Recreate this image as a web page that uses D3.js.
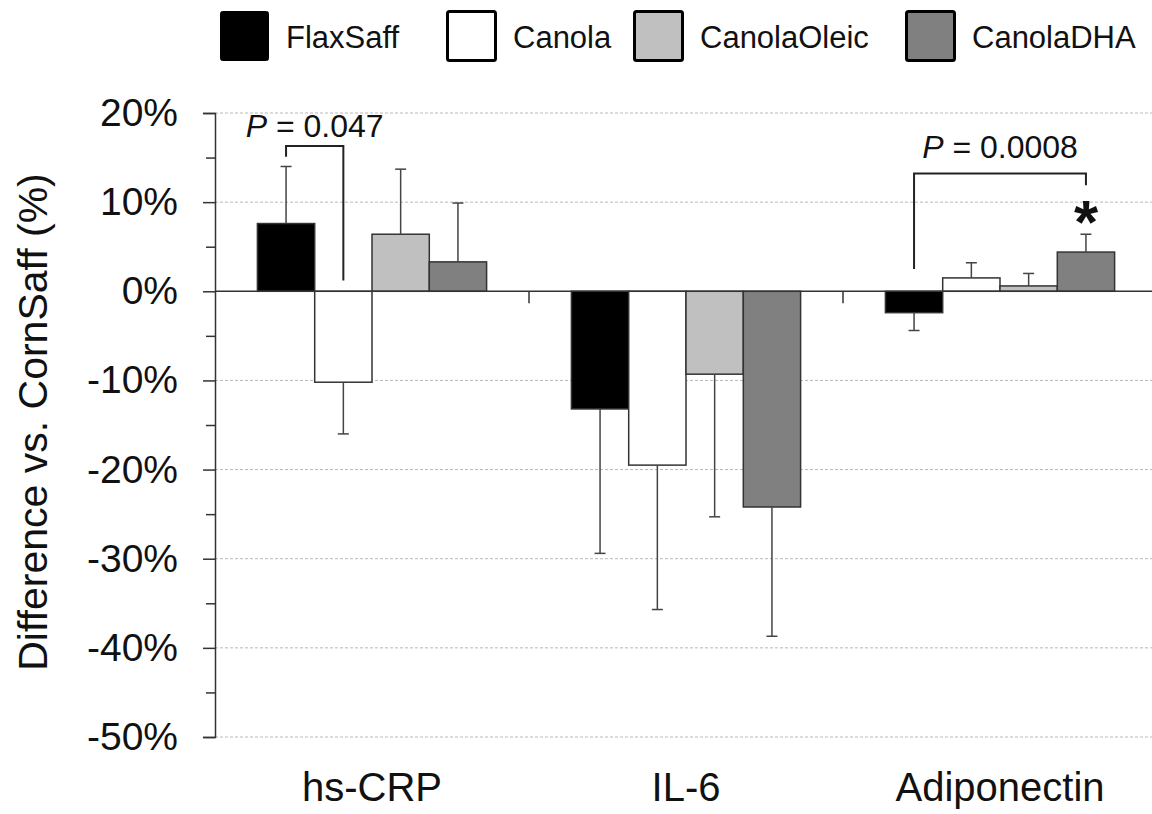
<!DOCTYPE html>
<html>
<head>
<meta charset="utf-8">
<script src="https://cdn.jsdelivr.net/npm/d3@7"></script>
<style>
  body { margin: 0; background: #fff; }
  svg { display: block; font-family: "Liberation Sans", Arial, sans-serif; }
</style>
</head>
<body>
<svg id="svg" width="1152" height="814"></svg>
<script>
// categories and series
var categories = ["hs-CRP", "IL-6", "Adiponectin"];
var seriesNames = ["FlaxSaff", "Canola", "CanolaOleic", "CanolaDHA"];
var seriesColors = ["#000000", "#ffffff", "#c0c0c0", "#808080"];

// % difference vs CornSaff, one value per category
var flaxSaff    = [7.6, -13.2, -2.4];
var canola      = [-10.2, -19.5, 1.5];
var canolaOleic = [6.4, -9.3, 0.6];
var canolaDHA   = [3.3, -24.2, 4.4];

// error bar length (drawn away from zero)
var flaxSaffErr    = [6.4, 16.2, 2.0];
var canolaErr      = [5.8, 16.2, 1.7];
var canolaOleicErr = [7.3, 16.0, 1.4];
var canolaDHAErr   = [6.6, 14.5, 2.0];

var yTicks = [20, 10, 0, -10, -20, -30, -40, -50];
var yMinorTicks = [15, 5, -5, -15, -25, -35, -45];

// significance brackets: category, from series, to series, top, left leg end, right leg end, label
var bracketCats = ["hs-CRP", "Adiponectin"];
var bracketFrom = ["FlaxSaff", "FlaxSaff"];
var bracketTo = ["Canola", "CanolaDHA"];
var bracketTop = [16.3, 13.2];
var bracketLeftEnd = [15.1, 2.5];
var bracketRightEnd = [1.2, 11.9];
var bracketLabels = ["0.047", "0.0008"];
var labelValue = [17.3, 14.9];

var allValues = [flaxSaff, canola, canolaOleic, canolaDHA];
var allErrs = [flaxSaffErr, canolaErr, canolaOleicErr, canolaDHAErr];

var barData = [];
categories.forEach(function(c, i){
    seriesNames.forEach(function(s, j){
        barData.push({cat: c, series: s, value: allValues[j][i], err: allErrs[j][i], color: seriesColors[j]});
    });
});

var svg = d3.select("#svg");
var plot = {left: 215, right: 1157, top: 113, bottom: 737};

var y = d3.scaleLinear().domain([-50, 20]).range([plot.bottom, plot.top]);
var x0 = d3.scaleBand().domain(categories).range([plot.left, plot.right]).padding(0);
var x1 = d3.scaleBand().domain(seriesNames).range([0, x0.bandwidth()]).paddingInner(0).paddingOuter(0.74);

svg.append("rect").attr("width", 1152).attr("height", 814).attr("fill", "#fff");

// gridlines
svg.append("g").selectAll("line").data(yTicks.filter(function(d){ return d !== 0; })).enter()
    .append("line")
    .attr("x1", plot.left).attr("x2", 1152)
    .attr("y1", function(d){ return y(d); }).attr("y2", function(d){ return y(d); })
    .attr("stroke", "#b8b8b8").attr("stroke-width", 1).attr("stroke-dasharray", "3,2");

// bars
var bars = svg.append("g");
bars.selectAll("rect").data(barData).enter()
    .append("rect")
    .attr("x", function(d){ return x0(d.cat) + x1(d.series); })
    .attr("width", x1.bandwidth())
    .attr("y", function(d){ return y(Math.max(0, d.value)); })
    .attr("height", function(d){ return Math.abs(y(d.value) - y(0)); })
    .attr("fill", function(d){ return d.color; })
    .attr("stroke", "#333").attr("stroke-width", 1.5);

// error bars
var errG = svg.append("g").attr("stroke", "#444").attr("stroke-width", 1.5);
barData.forEach(function(d){
    var cx = x0(d.cat) + x1(d.series) + x1.bandwidth() / 2;
    var end = d.value >= 0 ? d.value + d.err : d.value - d.err;
    errG.append("line").attr("x1", cx).attr("x2", cx).attr("y1", y(d.value)).attr("y2", y(end));
    errG.append("line").attr("x1", cx - 5.5).attr("x2", cx + 5.5).attr("y1", y(end)).attr("y2", y(end));
});

// zero line
svg.append("line")
    .attr("x1", plot.left).attr("x2", 1152)
    .attr("y1", y(0)).attr("y2", y(0))
    .attr("stroke", "#333").attr("stroke-width", 1.5);

// category separator ticks
svg.append("g").selectAll("line").data(categories.slice(0, 2)).enter()
    .append("line")
    .attr("x1", function(d){ return x0(d) + x0.bandwidth(); })
    .attr("x2", function(d){ return x0(d) + x0.bandwidth(); })
    .attr("y1", y(0)).attr("y2", y(0) + 12)
    .attr("stroke", "#333").attr("stroke-width", 1.5);

// y axis
var yAxis = svg.append("g").attr("transform", "translate(" + plot.left + ",0)")
    .call(d3.axisLeft(y).tickValues(yTicks).tickFormat(function(d){ return d + "%"; }).tickSize(12).tickPadding(25));
yAxis.select(".domain").attr("stroke", "#333").attr("stroke-width", 1.5);
yAxis.selectAll(".tick line").attr("stroke", "#333").attr("stroke-width", 1.5);
yAxis.selectAll(".tick text").attr("font-size", 39).attr("fill", "#111").attr("font-family", "Liberation Sans, Arial, sans-serif");

var yMinor = svg.append("g").attr("transform", "translate(" + plot.left + ",0)")
    .call(d3.axisLeft(y).tickValues(yMinorTicks).tickFormat("").tickSize(9));
yMinor.select(".domain").remove();
yMinor.selectAll(".tick line").attr("stroke", "#333").attr("stroke-width", 1.5);

// x labels
svg.append("g").selectAll("text").data(categories).enter()
    .append("text")
    .attr("x", function(d){ return x0(d) + x0.bandwidth() / 2; })
    .attr("y", 801)
    .attr("text-anchor", "middle")
    .attr("font-size", 40).attr("fill", "#111")
    .text(function(d){ return d; });

// y title
svg.append("text")
    .attr("transform", "translate(47,422) rotate(-90)")
    .attr("text-anchor", "middle")
    .attr("font-size", 41).attr("fill", "#111")
    .text("Difference vs. CornSaff (%)");

// brackets
bracketCats.forEach(function(c, i){
    var xa = x0(c) + x1(bracketFrom[i]) + x1.bandwidth() / 2;
    var xb = x0(c) + x1(bracketTo[i]) + x1.bandwidth() / 2;
    svg.append("path")
        .attr("d", "M" + xa + "," + y(bracketLeftEnd[i]) + "V" + y(bracketTop[i]) + "H" + xb + "V" + y(bracketRightEnd[i]))
        .attr("fill", "none").attr("stroke", "#222").attr("stroke-width", 2);
    var t = svg.append("text")
        .attr("x", (xa + xb) / 2)
        .attr("y", y(labelValue[i]))
        .attr("text-anchor", "middle")
        .attr("font-size", 32).attr("fill", "#111");
    t.append("tspan").attr("font-style", "italic").text("P");
    t.append("tspan").text(" = " + bracketLabels[i]);
});

// significance star above CanolaDHA adiponectin
var starX = x0("Adiponectin") + x1("CanolaDHA") + x1.bandwidth() / 2;
svg.append("text")
    .attr("x", starX)
    .attr("y", y(4.4 + 2.0) + 9)
    .attr("text-anchor", "middle")
    .attr("font-size", 62).attr("font-weight", "bold").attr("fill", "#111")
    .text("*");

// legend
var legendX = [219, 446, 633, 905];
var legend = svg.append("g");
seriesNames.forEach(function(s, j){
    legend.append("rect")
        .attr("x", legendX[j] + 1.5).attr("y", 11.5)
        .attr("width", 48).attr("height", 49)
        .attr("rx", 2)
        .attr("fill", seriesColors[j])
        .attr("stroke", "#000").attr("stroke-width", j === 0 ? 1 : 3);
    legend.append("text")
        .attr("x", legendX[j] + 67).attr("y", 48)
        .attr("font-size", 31).attr("fill", "#111")
        .text(s);
});
</script>
</body>
</html>
